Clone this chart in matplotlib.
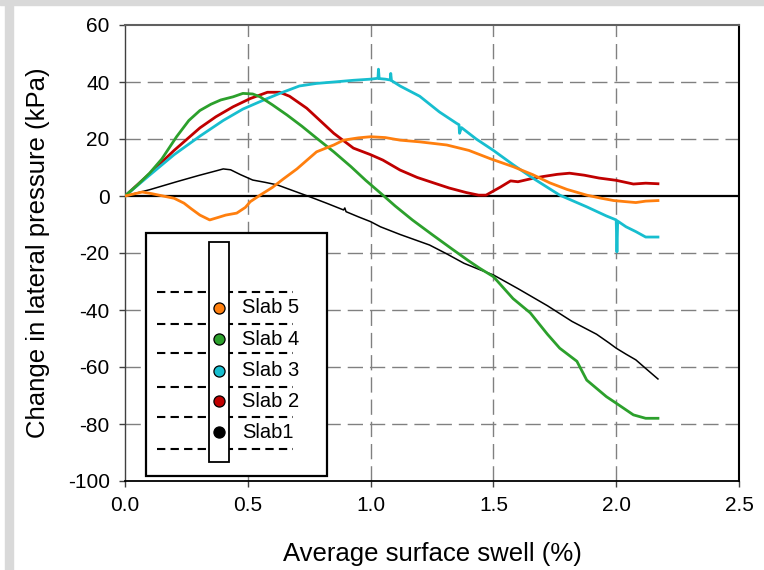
import matplotlib
matplotlib.use("Agg")
import matplotlib.pyplot as plt
from matplotlib.patches import Rectangle

plt.rcParams['font.family'] = ['Liberation Sans', 'DejaVu Sans']
plt.rcParams['axes.unicode_minus'] = False

# Slab 1 (black)
slab1_x = [0, 0.1, 0.21, 0.3, 0.37, 0.40, 0.43, 0.47, 0.52, 0.57, 0.62, 0.68, 0.75, 0.82,
           0.89, 0.895, 0.9, 0.95, 1.0, 1.04, 1.12, 1.24, 1.31, 1.38, 1.44, 1.5, 1.6, 1.72,
           1.82, 1.92, 1.97, 2.0, 2.04, 2.08, 2.12, 2.17]
slab1_y = [0, 2.2, 5, 7.2, 8.8, 9.5, 9.2, 7.5, 5.6, 4.8, 3.9, 2, -0.2, -2.5,
           -4.9, -4.2, -5.5, -7.3, -9, -10.8, -13.5, -17.2, -20.3, -23.6, -25.7, -27.7, -32.5, -38.5,
           -44, -48.5, -51.5, -53.4, -55.5, -57.5, -60.5, -64.2]

# Slab 2 (red)
slab2_x = [0, 0.1, 0.2, 0.305, 0.37, 0.44, 0.51, 0.58, 0.63, 0.67, 0.74, 0.80, 0.85, 0.93,
           1.0, 1.05, 1.12, 1.19, 1.26, 1.32, 1.39, 1.44, 1.47, 1.53, 1.57, 1.60, 1.65, 1.70,
           1.76, 1.81, 1.87, 1.93, 2.0, 2.07, 2.12, 2.17]
slab2_y = [0, 7.8, 16, 23.9, 27.8, 31.3, 34.2, 36.4, 36.4, 35, 30.8, 26, 22, 16.8,
           14.5, 12.6, 9.1, 6.5, 4.5, 2.8, 1.2, 0.3, 0.3, 3.2, 5.3, 5, 6, 6.8,
           7.6, 8, 7.3, 6.3, 5.5, 4.2, 4.5, 4.3]

# Slab 3 (cyan)
slab3_x = [0, 0.1, 0.2, 0.305, 0.4, 0.48, 0.56, 0.63, 0.71, 0.78, 0.85, 0.93, 1.0, 1.03,
           1.032, 1.035, 1.06, 1.08, 1.082, 1.085, 1.12, 1.2, 1.28, 1.35, 1.36, 1.362, 1.37,
           1.43, 1.50, 1.58, 1.66, 1.77, 1.88, 1.96, 2.0, 2.003, 2.006, 2.04, 2.08, 2.12, 2.17]
slab3_y = [0, 7.3, 14.5, 21, 26.5, 30.5, 33.5, 36, 38.6, 39.5, 40, 40.6, 41, 41.3,
           44.5, 41.2, 41, 40.7, 43, 40.5, 38.6, 35, 29.5, 25.5, 25, 22, 24,
           20, 16, 11, 6.3, 0.3, -3.8, -7, -8.4, -19.6, -8.8, -10.8, -12.5, -14.4, -14.4]

# Slab 4 (green)
slab4_x = [0, 0.05, 0.10, 0.15, 0.21, 0.26, 0.305, 0.35, 0.39, 0.44, 0.48, 0.52, 0.55, 0.60,
           0.66, 0.72, 0.78, 0.85, 0.92, 0.98, 1.05, 1.10, 1.17, 1.25, 1.33, 1.40, 1.445, 1.5,
           1.58, 1.65, 1.72, 1.77, 1.84, 1.88, 1.96, 2.0, 2.07, 2.12, 2.17]
slab4_y = [0, 3.8, 8, 13, 20.8, 26.5, 30, 32.2, 33.7, 34.8, 36, 35.8, 34.8, 32,
           28.4, 24.5, 20.3, 15.5, 10.3, 5.5, 0.3, -3.5, -8.4, -13.5, -18.5, -22.8, -25.4, -28.3,
           -36, -41, -48.5, -53.4, -58, -64.6, -70.4, -72.7, -76.8, -78, -78]

# Slab 5 (orange)
slab5_x = [0, 0.04, 0.07, 0.11, 0.155, 0.2, 0.24, 0.27, 0.305, 0.345, 0.38, 0.41, 0.455, 0.49,
           0.51, 0.55, 0.6, 0.645, 0.7, 0.78, 0.85, 0.89, 0.95, 1.0, 1.06, 1.12, 1.2, 1.31,
           1.4, 1.49, 1.58, 1.66, 1.73, 1.8, 1.88, 1.94, 1.99, 2.04, 2.08, 2.12, 2.17]
slab5_y = [0, 0.8, 1.4, 0.8, 0, -0.8, -2.5, -4.5, -6.7, -8.4, -7.5, -6.7, -6, -4,
           -2, 0.3, 3, 6, 9.5, 15.5, 17.9, 19.6, 20.4, 20.8, 20.5, 19.6, 19, 17.9,
           16, 13, 10.3, 7.5, 4.6, 2.3, 0.3, -0.8, -1.6, -2, -2.3, -1.8, -1.6]

legend_labels = ['Slab 5', 'Slab 4', 'Slab 3', 'Slab 2', 'Slab1']
legend_colors = ['#ff7f0e', '#2ca02c', '#17becf', '#c00000', '#000000']

x_ticks = [0.0, 0.5, 1.0, 1.5, 2.0, 2.5]
y_ticks = [-100, -80, -60, -40, -20, 0, 20, 40, 60]

fig = plt.figure(figsize=(7.64, 5.70), dpi=100)

# grey frame of the original screenshot
fig.patches.append(Rectangle((0, 1 - 5 / 570), 1, 5 / 570, transform=fig.transFigure,
                             color='#d9d9d9', zorder=0))
fig.patches.append(Rectangle((5 / 764, 0), 8 / 764, 1, transform=fig.transFigure,
                             color='#d9d9d9', zorder=0))

ax = fig.add_axes([125 / 764, 89 / 570, 614 / 764, 456 / 570])

ax.set_xlim(0, 2.5)
ax.set_ylim(-100, 60)
ax.set_xticks(x_ticks)
ax.set_xticklabels(['%.1f' % v for v in x_ticks])
ax.set_yticks(y_ticks)

for v in x_ticks[1:-1]:
    ax.axvline(v, color='#808080', lw=1.0, dashes=(11, 5), zorder=1)
for v in y_ticks:
    if v not in (-100, 0, 60):
        ax.axhline(v, color='#808080', lw=1.0, dashes=(11, 5), zorder=1)
ax.axhline(0, color='black', lw=1.6, zorder=2)

ax.plot(slab1_x, slab1_y, color='black', lw=1.1, zorder=3)
ax.plot(slab2_x, slab2_y, color='#c00000', lw=2.0, zorder=3)
ax.plot(slab3_x, slab3_y, color='#17becf', lw=2.0, zorder=3)
ax.plot(slab4_x, slab4_y, color='#2ca02c', lw=2.0, zorder=3)
ax.plot(slab5_x, slab5_y, color='#ff7f0e', lw=2.0, zorder=3)

ax.spines['left'].set_color('#404040')
ax.spines['left'].set_linewidth(1.0)
ax.spines['top'].set_color('#606060')
ax.spines['top'].set_linewidth(1.5)
ax.spines['right'].set_color('black')
ax.spines['right'].set_linewidth(1.5)
ax.spines['bottom'].set_color('black')
ax.spines['bottom'].set_linewidth(1.3)

ax.tick_params(direction='out', length=4, width=1, color='#404040', labelsize=15, pad=7)
ax.set_xlabel('Average surface swell (%)', fontsize=18.5, labelpad=19)
ax.set_ylabel('Change in lateral pressure (kPa)', fontsize=18.5, labelpad=13)

# legend drawn as a sketch of the slab layout
T = ax.transAxes
ax.add_patch(Rectangle((0.034, 0.011), 0.295, 0.533, transform=T, facecolor='white',
                       edgecolor='black', lw=1.6, zorder=5))
for fy in [0.4151, 0.3443, 0.2800, 0.2068, 0.1397, 0.0702]:
    ax.plot([0.0516, 0.2739], [fy, fy], transform=T, color='black', lw=1.5,
            dashes=(4, 2.5), zorder=6)
ax.add_patch(Rectangle((0.1373, 0.0423), 0.0314, 0.4825, transform=T, facecolor='white',
                       edgecolor='black', lw=1.3, zorder=7))
dot_y = [0.380, 0.3107, 0.2419, 0.1754, 0.1068]
for lab, col, fy in zip(legend_labels, legend_colors, dot_y):
    ax.plot([0.1526], [fy], 'o', transform=T, ms=8, mfc=col, mec='black', mew=0.9,
            zorder=8)
    ax.text(0.190, fy, lab, transform=T, fontsize=14.5, va='center', ha='left', zorder=8)

fig.savefig('out.png', dpi=100)
